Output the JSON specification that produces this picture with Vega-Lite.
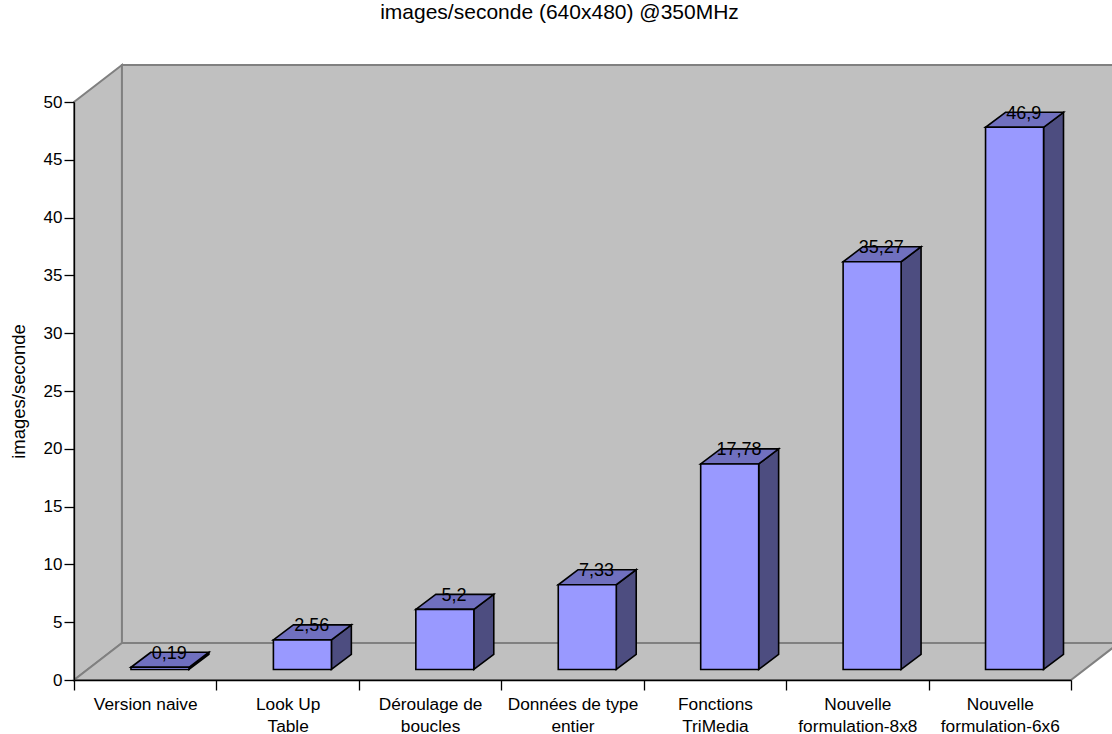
{
"$schema":"https://vega.github.io/schema/vega-lite/v6.json",
"width":997,"height":578,
"autosize":{"type":"none"},
"padding":{"left":74,"top":102,"right":41,"bottom":54},
"background":"white",
"config":{"font":"Liberation Sans","view":{"stroke":null},"axis":{"grid":false}},
"title":{"text":"images/seconde (640x480) @350MHz","fontSize":21,"fontWeight":"normal","color":"#000000","anchor":"middle","dx":-13,"offset":38},
"datasets":{
"bars":[
{"name":"Version naive","label":"Version naive","v":0.19},
{"name":"Look Up Table","label":"Look Up|Table","v":2.56},
{"name":"Déroulage de boucles","label":"Déroulage de|boucles","v":5.2},
{"name":"Données de type entier","label":"Données de type|entier","v":7.33},
{"name":"Fonctions TriMedia","label":"Fonctions|TriMedia","v":17.78},
{"name":"Nouvelle formulation-8x8","label":"Nouvelle|formulation-8x8","v":35.27},
{"name":"Nouvelle formulation-6x6","label":"Nouvelle|formulation-6x6","v":46.9}
],
"depth":[{"d":0},{"d":1}]
},
"resolve":{"scale":{"x":"independent"},"axis":{"x":"independent"}},
"layer":[
{"data":{"name":"depth"},
 "transform":[{"calculate":"datum.d*0.3367","as":"px"},{"calculate":"datum.d*3.2","as":"lo"},{"calculate":"50+datum.d*3.2","as":"hi"}],
 "mark":{"type":"area","fill":"#C0C0C0","stroke":"#808080","strokeWidth":2,"clip":false},
 "encoding":{"x":{"field":"px","type":"quantitative","scale":{"domain":[0,7],"nice":false,"zero":false},"axis":null},
  "y":{"field":"lo","type":"quantitative","scale":{"domain":[0,50],"nice":false,"zero":false},
   "axis":{"title":"images/seconde","values":[0,5,10,15,20,25,30,35,40,45,50],"tickSize":10,"tickColor":"#000000","domainColor":"#000000","tickWidth":1.3,"domainWidth":1.3,"labelFontSize":17,"labelColor":"#000000","labelPadding":2,"titleFontSize":18.5,"titleFontWeight":"normal","titleColor":"#000000","titlePadding":15,"zindex":1}},
  "y2":{"field":"hi"}}},
{"data":{"name":"depth"},
 "transform":[{"calculate":"0.3367+7*datum.d","as":"px"},{"calculate":"3.2","as":"lo"},{"calculate":"53.2","as":"hi"}],
 "mark":{"type":"area","fill":"#C0C0C0","stroke":"#808080","strokeWidth":2,"clip":false},
 "encoding":{"x":{"field":"px","type":"quantitative","scale":{"domain":[0,7],"nice":false,"zero":false},"axis":null},
  "y":{"field":"lo","type":"quantitative"},"y2":{"field":"hi"}}},
{"data":{"name":"depth"},
 "transform":[{"calculate":"datum.d*0.3367","as":"px0"},{"calculate":"7+datum.d*0.3367","as":"px1"},{"calculate":"datum.d*3.2","as":"py"}],
 "mark":{"type":"area","orient":"horizontal","fill":"#C0C0C0","stroke":"#808080","strokeWidth":2,"clip":false},
 "encoding":{"y":{"field":"py","type":"quantitative"},
  "x":{"field":"px0","type":"quantitative","scale":{"domain":[0,7],"nice":false,"zero":false},"axis":null},"x2":{"field":"px1"}}},
{"data":{"name":"bars"},
 "transform":[{"window":[{"op":"row_number","as":"n"}]},
  {"calculate":"[0,1]","as":"t"},{"flatten":["t"]},
  {"calculate":"datum.n-1+0.8073+datum.t*0.14","as":"px"},
  {"calculate":"0.91+datum.t*1.3","as":"lo"},
  {"calculate":"0.91+datum.v+datum.t*1.3","as":"hi"}],
 "mark":{"type":"area","fill":"#4D4D80","stroke":"#000000","strokeWidth":1.6,"clip":false},
 "encoding":{"x":{"field":"px","type":"quantitative","scale":{"domain":[0,7],"nice":false,"zero":false},"axis":null},
  "y":{"field":"lo","type":"quantitative"},"y2":{"field":"hi"},"detail":{"field":"name"}}},
{"data":{"name":"bars"},
 "transform":[{"window":[{"op":"row_number","as":"n"}]},
  {"calculate":"[0,1]","as":"t"},{"flatten":["t"]},
  {"calculate":"datum.n-1+0.4+datum.t*0.14","as":"px0"},
  {"calculate":"datum.n-1+0.8073+datum.t*0.14","as":"px1"},
  {"calculate":"0.91+datum.v+datum.t*1.3","as":"py"}],
 "mark":{"type":"area","orient":"horizontal","fill":"#7070BF","stroke":"#000000","strokeWidth":1.6,"clip":false},
 "encoding":{"y":{"field":"py","type":"quantitative"},
  "x":{"field":"px0","type":"quantitative","scale":{"domain":[0,7],"nice":false,"zero":false},"axis":null},"x2":{"field":"px1"},"detail":{"field":"name"}}},
{"data":{"name":"bars"},
 "transform":[{"window":[{"op":"row_number","as":"n"}]},
  {"calculate":"datum.n-1+0.4","as":"px0"},
  {"calculate":"datum.n-1+0.8073","as":"px1"},
  {"calculate":"0.91","as":"lo"},
  {"calculate":"0.91+datum.v","as":"hi"}],
 "mark":{"type":"rect","fill":"#9999FF","stroke":"#000000","strokeWidth":1.6,"clip":false},
 "encoding":{"x":{"field":"px0","type":"quantitative","scale":{"domain":[0,7],"nice":false,"zero":false},"axis":null},"x2":{"field":"px1"},
  "y":{"field":"lo","type":"quantitative"},"y2":{"field":"hi"}}},
{"data":{"name":"bars"},
 "transform":[{"calculate":"replace(''+datum.v,'.',',')","as":"txt"}],
 "mark":{"type":"text","fontSize":18,"color":"#000000","dx":24,"dy":-24,"baseline":"middle","clip":false},
 "encoding":{"x":{"field":"label","type":"nominal","sort":null,"scale":{"paddingInner":0,"paddingOuter":0},
   "axis":{"title":null,"orient":"bottom","tickBand":"extent","tickSize":10,"tickColor":"#000000","domainColor":"#000000","tickWidth":1.3,"domainWidth":1.3,"labelAngle":0,"labelFontSize":17.3,"labelColor":"#000000","labelPadding":5,"labelLimit":300,"labelLineHeight":22.5,"labelOverlap":false,"labelExpr":"split(datum.label,'|')","zindex":1}},
  "y":{"field":"v","type":"quantitative"},"text":{"field":"txt"}}}
]
}
